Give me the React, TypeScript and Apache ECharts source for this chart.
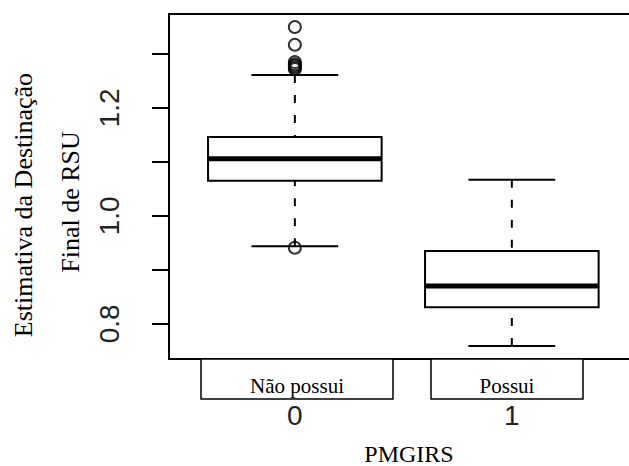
import React, { useEffect, useRef } from "react";
import * as echarts from "echarts";

// ---- data ----
const categories = ["0", "1"];
const groupLabels = ["Não possui", "Possui"];
const whiskerLow = [0.944, 0.759];
const q1 = [1.065, 0.831];
const median = [1.106, 0.87];
const q3 = [1.146, 0.935];
const whiskerHigh = [1.261, 1.067];
const outliers0 = [1.35, 1.317, 1.285, 1.281, 1.278, 1.275, 1.272, 0.941];
const outliers1: number[] = [];
const yTicks = [0.8, 0.9, 1.0, 1.1, 1.2, 1.3];
const yTickLabels = [0.8, 1.0, 1.2];
const xTitle = "PMGIRS";
const yTitleLines = ["Estimativa da Destinação", "Final de RSU"];

const SANS = "'Liberation Sans', Arial, sans-serif";
const SERIF = "'Liberation Serif', 'Times New Roman', serif";

export default function App() {
  const ref = useRef<HTMLDivElement>(null);
  useEffect(() => {
    if (!ref.current) return;
    const chart = echarts.init(ref.current, null, { renderer: "svg" });

    const boxData = categories.map((_, i) => [
      i + 1,
      whiskerLow[i],
      q1[i],
      median[i],
      q3[i],
      whiskerHigh[i],
    ]);
    const outlierData: number[][] = [];
    outliers0.forEach((v) => outlierData.push([1, v]));
    outliers1.forEach((v) => outlierData.push([2, v]));

    const renderItem = (params: any, api: any) => {
      const x = api.value(0);
      const lo = api.value(1);
      const a = api.value(2);
      const m = api.value(3);
      const b = api.value(4);
      const hi = api.value(5);
      const half = api.size([0.8, 0])[0] / 2;
      const cap = half / 2;
      const pLo = api.coord([x, lo]);
      const pA = api.coord([x, a]);
      const pM = api.coord([x, m]);
      const pB = api.coord([x, b]);
      const pHi = api.coord([x, hi]);
      const cx = pM[0];
      const solid = { stroke: "#000", lineWidth: 2 };
      const dashed = { stroke: "#000", lineWidth: 2, lineDash: [8, 12] };
      return {
        type: "group",
        children: [
          { type: "line", shape: { x1: cx, y1: pHi[1], x2: cx, y2: pB[1] }, style: dashed },
          { type: "line", shape: { x1: cx, y1: pLo[1], x2: cx, y2: pA[1] }, style: dashed },
          { type: "line", shape: { x1: cx - cap, y1: pHi[1], x2: cx + cap, y2: pHi[1] }, style: solid },
          { type: "line", shape: { x1: cx - cap, y1: pLo[1], x2: cx + cap, y2: pLo[1] }, style: solid },
          {
            type: "rect",
            shape: { x: cx - half, y: pB[1], width: half * 2, height: pA[1] - pB[1] },
            style: { fill: "#fff", stroke: "#000", lineWidth: 2 },
          },
          {
            type: "line",
            shape: { x1: cx - half, y1: pM[1], x2: cx + half, y2: pM[1] },
            style: { stroke: "#000", lineWidth: 5 },
          },
        ],
      };
    };

    const labelBoxes: any[] = [];
    const boxDefs = [
      { x: 201, w: 192 },
      { x: 431, w: 152 },
    ];
    groupLabels.forEach((t, i) => {
      labelBoxes.push({
        type: "rect",
        z: 100,
        shape: { x: boxDefs[i].x, y: 359, width: boxDefs[i].w, height: 40 },
        style: { fill: "#fff", stroke: "#000", lineWidth: 1.5 },
      });
      labelBoxes.push({
        type: "text",
        z: 101,
        x: boxDefs[i].x + boxDefs[i].w / 2,
        y: 386,
        style: {
          text: t,
          font: `21px ${SERIF}`,
          fill: "#000",
          textAlign: "center",
          textVerticalAlign: "middle",
        },
      });
    });

    const frameLine = { show: true, lineStyle: { color: "#000", width: 2 } };

    chart.setOption({
      animation: false,
      backgroundColor: "#fff",
      grid: {
        left: 169,
        top: 14,
        right: 0,
        height: 345,
      },
      xAxis: [
        {
          type: "value",
          position: "bottom",
          min: 0.42,
          max: 2.54,
          axisLine: frameLine,
          axisTick: { show: false },
          splitLine: { show: false },
          axisLabel: {
            customValues: [1, 2],
            formatter: (v: number) => categories[Math.round(v) - 1] ?? "",
            fontFamily: SANS,
            fontSize: 28,
            color: "#222",
            margin: 42,
          },
        },
        {
          type: "value",
          position: "top",
          min: 0.42,
          max: 2.54,
          axisLine: frameLine,
          axisTick: { show: false },
          axisLabel: { show: false },
          splitLine: { show: false },
        },
      ],
      yAxis: {
        type: "value",
        min: 0.735,
        max: 1.374,
        axisLine: frameLine,
        splitLine: { show: false },
        axisTick: {
          show: true,
          customValues: yTicks,
          length: 17,
          lineStyle: { color: "#000", width: 2 },
        },
        axisLabel: {
          customValues: yTickLabels,
          rotate: 90,
          formatter: (v: number) => v.toFixed(1),
          fontFamily: SANS,
          fontSize: 28,
          color: "#222",
          margin: 46,
        },
      },
      series: [
        {
          type: "custom",
          renderItem,
          data: boxData,
          encode: { x: 0, y: [1, 2, 3, 4, 5] },
          z: 2,
        },
        {
          type: "scatter",
          data: outlierData,
          symbol: "circle",
          symbolSize: 12,
          itemStyle: { color: "rgba(0,0,0,0)", borderColor: "#000", borderWidth: 2 },
          z: 3,
        },
      ],
      graphic: [
        ...labelBoxes,
        {
          type: "text",
          x: 409,
          y: 454,
          style: {
            text: xTitle,
            font: `24px ${SERIF}`,
            fill: "#000",
            textAlign: "center",
            textVerticalAlign: "middle",
          },
        },
        {
          type: "text",
          x: 23,
          y: 205,
          rotation: Math.PI / 2,
          style: {
            text: yTitleLines[0],
            font: `26px ${SERIF}`,
            fill: "#000",
            textAlign: "center",
            textVerticalAlign: "middle",
          },
        },
        {
          type: "text",
          x: 70,
          y: 202,
          rotation: Math.PI / 2,
          style: {
            text: yTitleLines[1],
            font: `26px ${SERIF}`,
            fill: "#000",
            textAlign: "center",
            textVerticalAlign: "middle",
          },
        },
      ],
    });
    return () => chart.dispose();
  }, []);
  return (
    <div
      ref={ref}
      style={{ position: "fixed", left: 0, top: 0, width: 629, height: 466 }}
    />
  );
}
